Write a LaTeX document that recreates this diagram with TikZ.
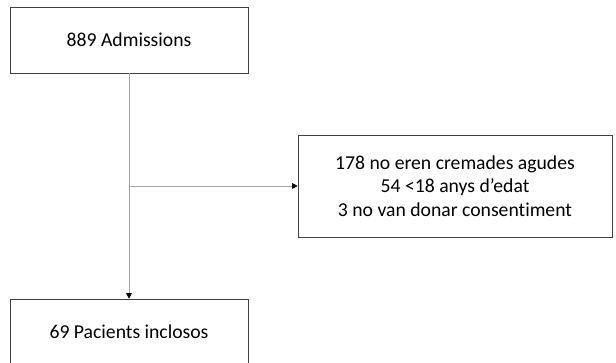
\documentclass[tikz,border=0pt]{standalone}
\usepackage{fontspec}
\setmainfont[Ligatures=NoCommon]{Carlito}
\usetikzlibrary{positioning}
\usetikzlibrary{arrows.meta}
\tikzstyle{stage} = [draw=black!75, rectangle, minimum width=5.95cm,
minimum height=1.65cm, inner sep=0pt, font=\fontsize{14}{16.8}\selectfont]
\tikzstyle{line} = [draw, black!35, line width=0.6pt, -{Triangle[black, length=4pt, width=4pt]}]

\begin{document}
\begin{tikzpicture}[auto,
        excluded/.style={stage, minimum width=7.85cm, minimum height=2.55cm,
            align=center}]
        \useasboundingbox (0,0) rectangle (15.4,-9.05);
        \clip (0,0) rectangle (15.4,-9.05);
        %% Boxes
        \node [stage] at (3.225,-1.0) (adm) {889 Admissions};
        \node [excluded] at (11.375,-4.65) (exc) {178 no eren cremades agudes\\
            54 <18 anys d’edat\\ 3 no van donar consentiment};
        \node [stage] at (3.225,-8.3) (inc) {69 Pacients inclosos};
        \coordinate (split) at (3.225,-4.65);
        %% Arrows
        \path [line] (adm) to (inc);
        \path [line] (split) to (exc);
    \end{tikzpicture}
\end{document}
